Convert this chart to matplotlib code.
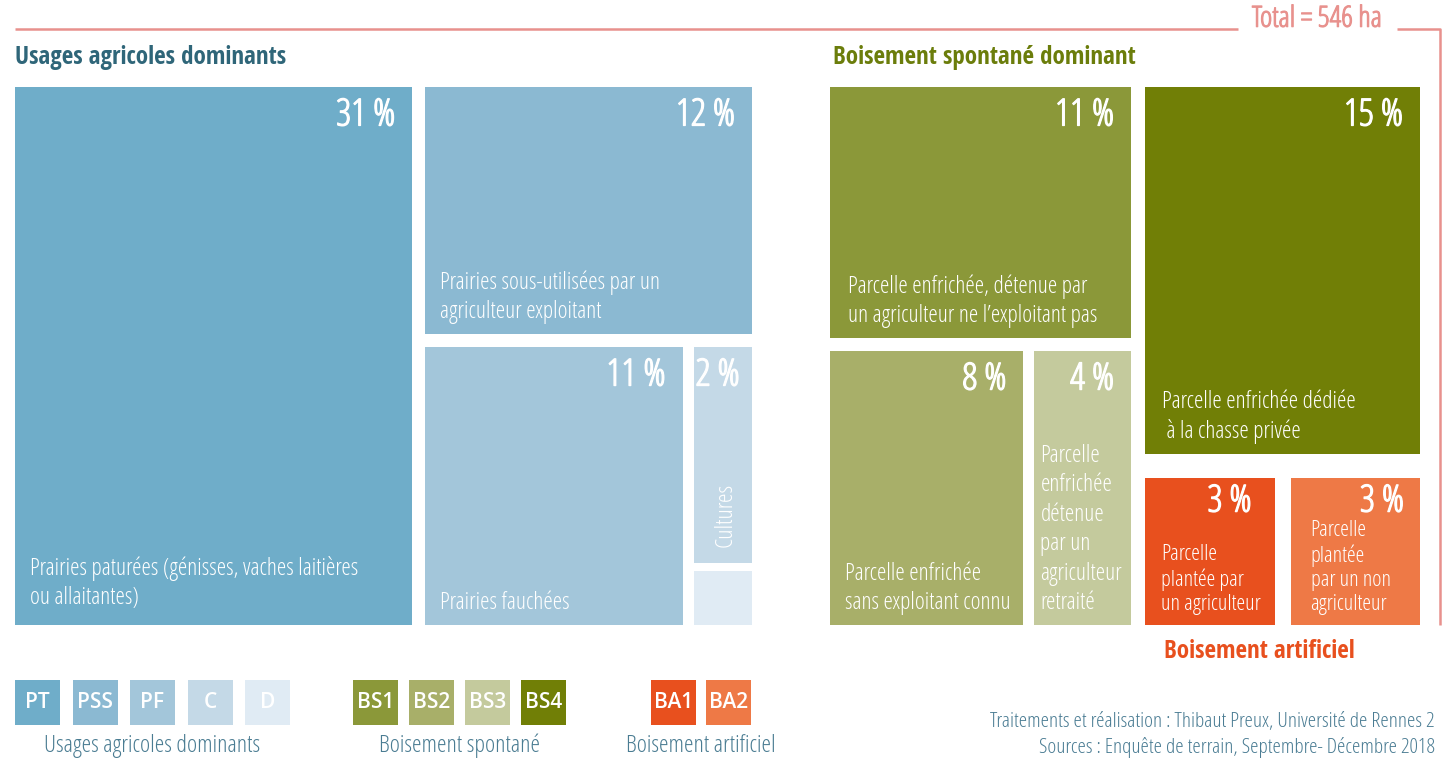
import matplotlib
matplotlib.use('Agg')
import matplotlib.pyplot as plt
import matplotlib.patheffects as pe
from matplotlib.patches import Rectangle

# surface shares (% of 546 ha)
total_ha = 546

usage_codes = ['PT', 'PSS', 'PF', 'C', 'D']
usage_values = [31, 12, 11, 2, 0.5]
usage_labels = ['Prairies paturées (génisses, vaches laitières\nou allaitantes)',
                'Prairies sous-utilisées par un\nagriculteur exploitant',
                'Prairies fauchées', 'Cultures', '']
usage_colors = ['#6fadc9', '#8bb9d2', '#a3c6da', '#c4d9e7', '#e0ebf4']

spont_codes = ['BS1', 'BS2', 'BS3', 'BS4']
spont_values = [11, 8, 4, 15]
spont_labels = ['Parcelle enfrichée, détenue par\nun agriculteur ne l\u2019exploitant pas',
                'Parcelle enfrichée\nsans exploitant connu',
                'Parcelle\nenfrichée\ndétenue\npar un\nagriculteur\nretraité',
                'Parcelle enfrichée dédiée\n à la chasse privée']
spont_colors = ['#8b9839', '#a8af69', '#c4ca9d', '#717f06']

artif_codes = ['BA1', 'BA2']
artif_values = [3, 3]
artif_labels = ['Parcelle\nplantée par\nun agriculteur', 'Parcelle\nplantée\npar un non\nagriculteur']
artif_colors = ['#e8501e', '#ee7946']

# Open Sans Condensed: light is registered under "Open Sans", bold under its own name
LIGHT = dict(family=['Open Sans', 'DejaVu Sans'], fontweight=300, fontstretch='condensed')
BOLD = dict(family=['Open Sans Condensed', 'DejaVu Sans'], fontweight=700, fontstretch='condensed')
SEMI = dict(family=['Open Sans', 'DejaVu Sans'], fontweight=600, fontstretch='normal')


def thick(color, w=0.9):
    return [pe.withStroke(linewidth=w, foreground=color)]


def split(lo, hi, weights, gap):
    room = hi - lo - gap * (len(weights) - 1)
    out = []
    pos = lo
    for w in weights:
        size = room * w / sum(weights)
        out.append((pos, pos + size))
        pos += size + gap
    return out


fig = plt.figure(figsize=(14.44, 7.6), dpi=100)
ax = fig.add_axes([0, 0, 1, 1])
ax.set_xlim(0, 1444)
ax.set_ylim(760, 0)
ax.axis('off')

TOP, BOTTOM = 87, 625


def cell(xs, ys, color, value, label, pct_pad=17, pct_top=9, label_pad=15,
         label_size=17, spacing=1.3, bottom_pad=10, clip=False):
    r = Rectangle((xs[0], ys[0]), xs[1] - xs[0], ys[1] - ys[0], color=color, lw=0)
    ax.add_patch(r)
    if value is not None:
        if clip:
            t = ax.text(xs[0] + 2, ys[0] + pct_top, f'{value:g} %', color='white', fontsize=27,
                        ha='left', va='top', path_effects=thick('white'), **LIGHT)
            t.set_clip_path(r)
        else:
            ax.text(xs[1] - pct_pad, ys[0] + pct_top, f'{value:g} %', color='white', fontsize=27,
                    ha='right', va='top', path_effects=thick('white'), **LIGHT)
    if label:
        ax.text(xs[0] + label_pad, ys[1] - bottom_pad, label, color='white',
                fontsize=label_size, ha='left', va='bottom', linespacing=spacing, **LIGHT)


# usages agricoles
u = usage_values
pt_x, rest_x = split(15, 752, [u[0], sum(u[1:])], 13)
pss_y, low_y = split(TOP, BOTTOM, [u[1], sum(u[2:])], 13)
pf_x, cd_x = split(rest_x[0], rest_x[1], [u[2], u[3] + u[4]], 11)
c_y, d_y = split(low_y[0], low_y[1], [u[3], u[4]], 8)

cell(pt_x, (TOP, BOTTOM), usage_colors[0], u[0], usage_labels[0], bottom_pad=15)
cell(rest_x, pss_y, usage_colors[1], u[1], usage_labels[1])
cell(pf_x, low_y, usage_colors[2], u[2], usage_labels[2])
cell(cd_x, c_y, usage_colors[3], u[3], None, clip=True)
ax.text((cd_x[0] + cd_x[1]) / 2 + 3, c_y[1] - 16, usage_labels[3], rotation=90,
        color='white', fontsize=17.5, ha='center', va='bottom', **LIGHT)
cell(cd_x, d_y, usage_colors[4], None, None)

# boisement spontane + artificiel
s, a = spont_values, artif_values
lcol, rcol = split(830, 1420, [s[0] + s[1] + s[2], s[3] + sum(a)], 14)
bs1_y, low2_y = split(TOP, BOTTOM, [s[0], s[1] + s[2]], 13)
bs2_x, bs3_x = split(lcol[0], lcol[1], [s[1], s[2]], 11)
bs4_y, ba_y = split(TOP, BOTTOM, [s[3], sum(a)], 24)
ba1_x, ba2_x = split(rcol[0], rcol[1], a, 16)

cell(lcol, bs1_y, spont_colors[0], s[0], spont_labels[0], label_pad=18)
cell(bs2_x, low2_y, spont_colors[1], s[1], spont_labels[1])
cell(bs3_x, low2_y, spont_colors[2], s[2], spont_labels[2], label_pad=6)
cell(rcol, bs4_y, spont_colors[3], s[3], spont_labels[3], label_pad=17)
cell(ba1_x, ba_y, artif_colors[0], a[0], artif_labels[0], pct_pad=23, pct_top=4,
     label_pad=16, label_size=16, spacing=1.2, bottom_pad=10)
cell(ba2_x, ba_y, artif_colors[1], a[1], artif_labels[1], pct_pad=16, pct_top=4,
     label_pad=20, label_size=16, spacing=1.2, bottom_pad=10)

# titles
ax.text(15, 57, 'Usages agricoles dominants', color='#2f6679', fontsize=18,
        va='center', **BOLD)
ax.text(833, 57, 'Boisement spontané dominant', color='#6b7d0b', fontsize=18,
        va='center', **BOLD)
ax.text(rcol[0] + 19, 652, 'Boisement artificiel', color='#e8501e',
        fontsize=18, ha='left', va='center', **BOLD)

# total bracket
line_c = '#e8918d'
ax.plot([15, 1238], [29, 29], color=line_c, lw=1.8, solid_capstyle='butt')
ax.plot([1397, 1440, 1440], [29, 29, BOTTOM], color=line_c, lw=1.8, solid_capstyle='butt')
ax.text(1317, 19, f'Total = {total_ha} ha', color=line_c, fontsize=21,
        ha='center', va='center', path_effects=thick(line_c, 0.8), **LIGHT)

# legend swatches
groups = [(usage_codes, usage_colors, 15, 57.5, 'Usages agricoles dominants'),
          (spont_codes, spont_colors, 353, 56, 'Boisement spontané'),
          (artif_codes, artif_colors, 651, 55, 'Boisement artificiel')]
for codes, colors, x0, step, title in groups:
    for i, (code, col) in enumerate(zip(codes, colors)):
        ax.add_patch(Rectangle((x0 + i * step, 680), 45, 45, color=col, lw=0))
        ax.text(x0 + i * step + 22.5, 703, code, color='white', fontsize=15,
                ha='center', va='center', **SEMI)
    mid = x0 + (step * (len(codes) - 1) + 45) / 2
    ax.text(mid, 746, title, color='#4a7c92', fontsize=17.5, ha='center', va='center',
            **LIGHT)

ax.text(1435, 722, 'Traitements et réalisation : Thibaut Preux, Université de Rennes 2',
        color='#4a7c93', fontsize=15.3, ha='right', va='center', **LIGHT)
ax.text(1435, 748, 'Sources : Enquête de terrain, Septembre- Décembre 2018',
        color='#4a7c93', fontsize=15.3, ha='right', va='center', **LIGHT)

fig.savefig('out.png', dpi=100)
